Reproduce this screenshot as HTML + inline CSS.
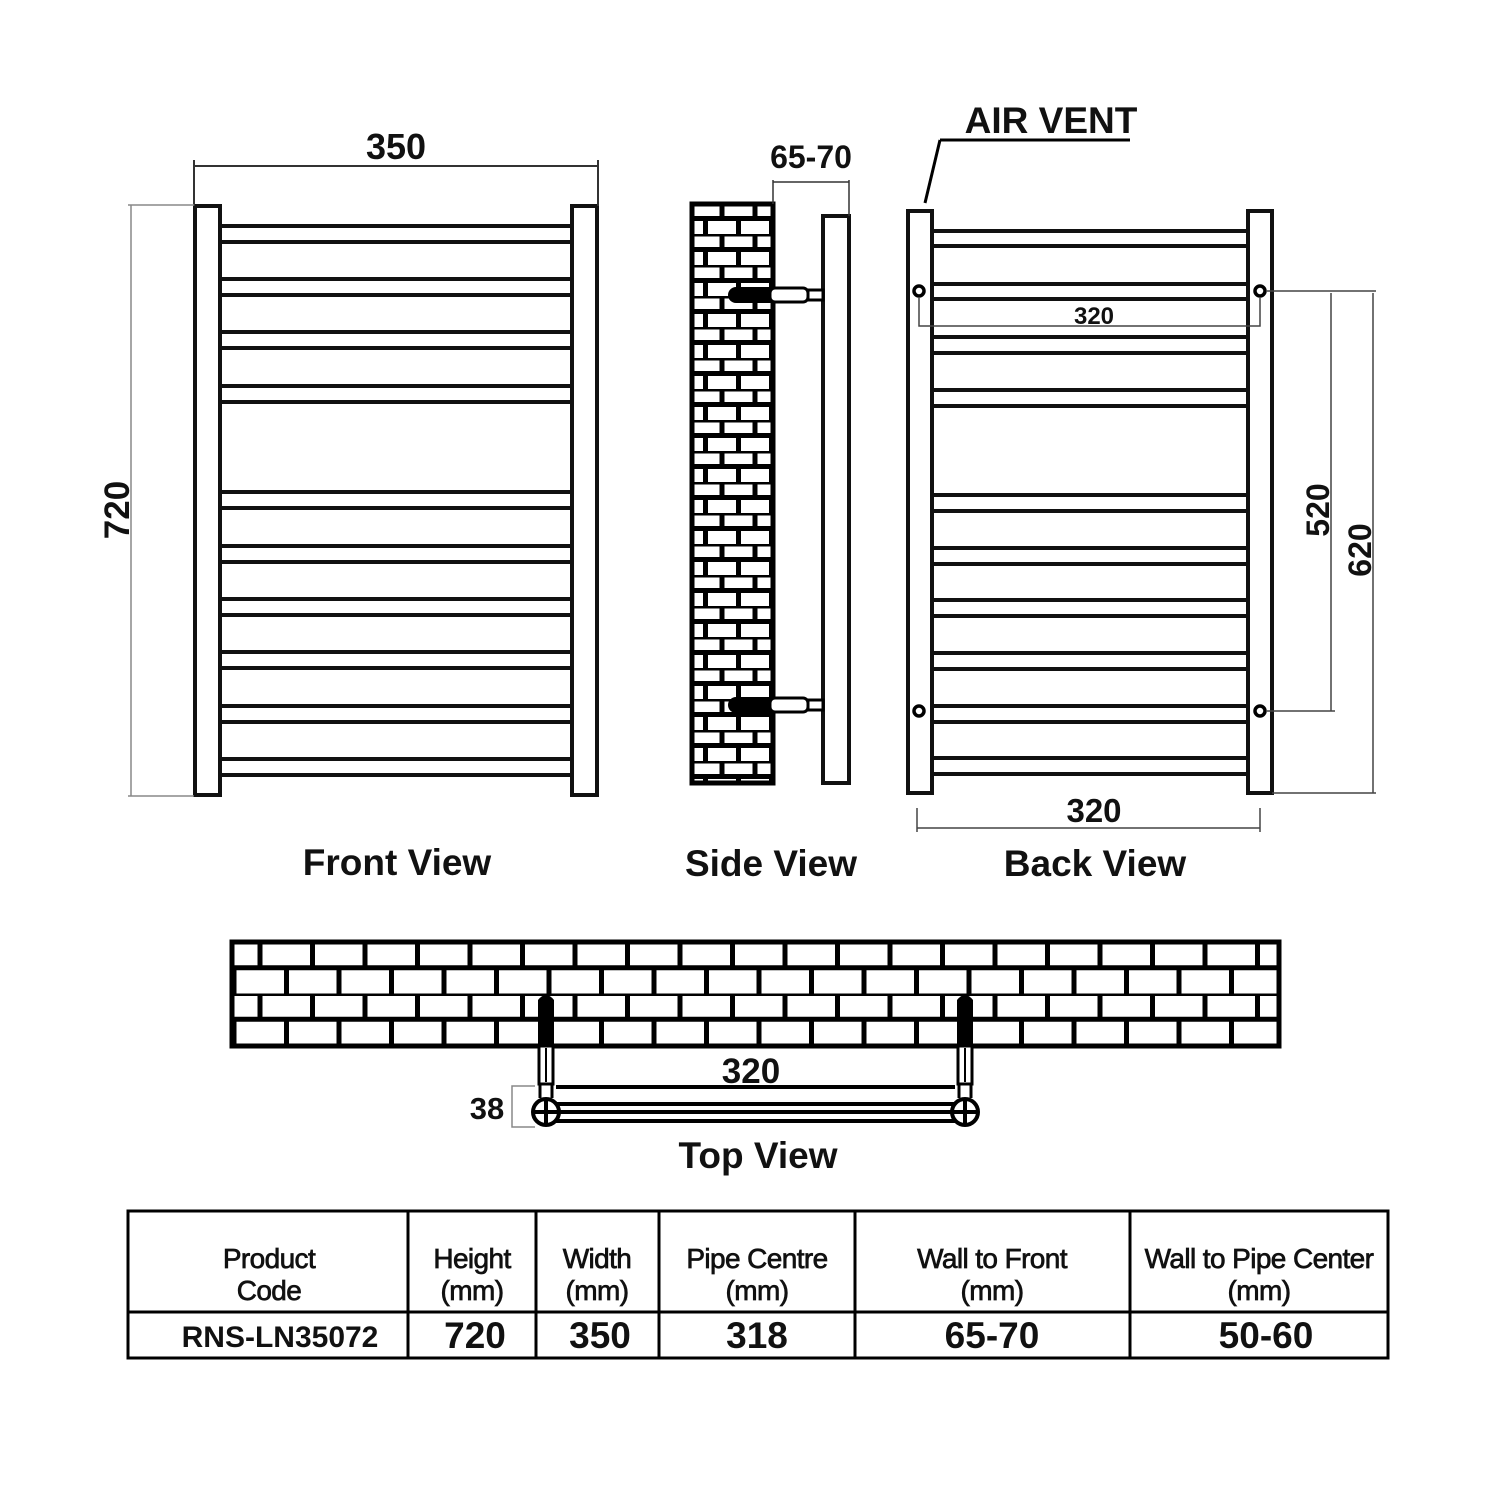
<!DOCTYPE html>
<html><head><meta charset="utf-8"><style>
html,body{margin:0;padding:0;background:#fff;}
svg{display:block;}
text{font-family:"Liberation Sans",Arial,sans-serif;fill:#111;}
.b{font-weight:bold;}
</style></head><body>
<svg width="1500" height="1500" viewBox="0 0 1500 1500" xmlns="http://www.w3.org/2000/svg">
<defs>
<pattern id="bt" patternUnits="userSpaceOnUse" x="234" y="942" width="52.5" height="51.5">
<rect width="52.5" height="51.5" fill="#fff"/>
<line x1="0" y1="0" x2="52.5" y2="0" stroke="#000" stroke-width="5"/>
<line x1="0" y1="25.75" x2="52.5" y2="25.75" stroke="#000" stroke-width="5"/>
<line x1="26" y1="0" x2="26" y2="25.75" stroke="#000" stroke-width="5"/>
<line x1="0" y1="25.75" x2="0" y2="51.5" stroke="#000" stroke-width="5"/>
<line x1="52.5" y1="25.75" x2="52.5" y2="51.5" stroke="#000" stroke-width="5"/>
</pattern>
<pattern id="bs" patternUnits="userSpaceOnUse" x="689" y="203" width="33" height="31">
<rect width="33" height="31" fill="#fff"/>
<line x1="0" y1="0" x2="33" y2="0" stroke="#000" stroke-width="5"/>
<line x1="0" y1="15.5" x2="33" y2="15.5" stroke="#000" stroke-width="5"/>
<line x1="0" y1="0" x2="0" y2="15.5" stroke="#000" stroke-width="5"/>
<line x1="33" y1="0" x2="33" y2="15.5" stroke="#000" stroke-width="5"/>
<line x1="16.5" y1="15.5" x2="16.5" y2="31" stroke="#000" stroke-width="5"/>
</pattern>
</defs>

<!-- FRONT VIEW -->
<g stroke="#111" fill="#fff" stroke-width="4">
<rect x="220" y="226" width="352" height="16"/>
<rect x="220" y="279" width="352" height="16"/>
<rect x="220" y="332" width="352" height="16"/>
<rect x="220" y="386" width="352" height="16"/>
<rect x="220" y="492" width="352" height="16"/>
<rect x="220" y="546" width="352" height="16"/>
<rect x="220" y="599" width="352" height="16"/>
<rect x="220" y="652" width="352" height="16"/>
<rect x="220" y="706" width="352" height="16"/>
<rect x="220" y="759" width="352" height="16"/>
<rect x="195" y="206" width="25" height="589"/>
<rect x="572" y="206" width="25" height="589"/>
</g>
<g stroke="#333" stroke-width="2" fill="none">
<line x1="194" y1="166" x2="598" y2="166"/>
<line x1="194" y1="160" x2="194" y2="206"/>
<line x1="598" y1="160" x2="598" y2="206"/>
</g>
<g stroke="#888" stroke-width="1.5" fill="none">
<line x1="131" y1="205" x2="131" y2="796"/>
<line x1="128" y1="205" x2="194" y2="205"/>
<line x1="128" y1="796" x2="194" y2="796"/>
</g>
<text x="396" y="159" font-size="36" class="b" text-anchor="middle">350</text>
<text transform="translate(129,510) rotate(-90)" font-size="35" class="b" text-anchor="middle">720</text>
<text x="397" y="875" font-size="37" class="b" text-anchor="middle">Front View</text>

<!-- SIDE VIEW -->
<rect x="692" y="204" width="81" height="579" fill="url(#bs)" stroke="#000" stroke-width="5"/>
<rect x="823" y="216" width="26" height="567" fill="#fff" stroke="#111" stroke-width="4"/>
<g>
<rect x="728" y="287" width="50" height="16" rx="8" fill="#000"/>
<rect x="770" y="288" width="38" height="14" rx="5" fill="#fff" stroke="#000" stroke-width="3"/>
<rect x="808" y="290" width="15" height="10" fill="#fff" stroke="#000" stroke-width="3"/>
<rect x="728" y="697" width="50" height="16" rx="8" fill="#000"/>
<rect x="770" y="698" width="38" height="14" rx="5" fill="#fff" stroke="#000" stroke-width="3"/>
<rect x="808" y="700" width="15" height="10" fill="#fff" stroke="#000" stroke-width="3"/>
</g>
<g stroke="#333" stroke-width="1.5" fill="none">
<line x1="773" y1="182" x2="849" y2="182"/>
<line x1="773" y1="180" x2="773" y2="204"/>
<line x1="849" y1="180" x2="849" y2="216"/>
</g>
<text x="811" y="168" font-size="32" class="b" text-anchor="middle">65-70</text>
<text x="771" y="876" font-size="37" class="b" text-anchor="middle">Side View</text>

<!-- BACK VIEW -->
<g stroke="#111" fill="#fff" stroke-width="4">
<rect x="932" y="231" width="316" height="15"/>
<rect x="932" y="284" width="316" height="15"/>
<rect x="932" y="337" width="316" height="16"/>
<rect x="932" y="390" width="316" height="16"/>
<rect x="932" y="495" width="316" height="16"/>
<rect x="932" y="548" width="316" height="16"/>
<rect x="932" y="600" width="316" height="16"/>
<rect x="932" y="653" width="316" height="16"/>
<rect x="932" y="706" width="316" height="16"/>
<rect x="932" y="758" width="316" height="16"/>
<rect x="908" y="211" width="24" height="582"/>
<rect x="1248" y="211" width="24" height="582"/>
</g>
<g fill="#fff" stroke="#000" stroke-width="3.5">
<circle cx="919" cy="291" r="5"/>
<circle cx="1260" cy="291" r="5"/>
<circle cx="919" cy="711" r="5"/>
<circle cx="1260" cy="711" r="5"/>
</g>
<g stroke="#444" stroke-width="1.5" fill="none">
<polyline points="919,297 919,326 1260,326 1260,297"/>
<line x1="1266" y1="291" x2="1376" y2="291"/>
<line x1="1266" y1="711" x2="1335" y2="711"/>
<line x1="1272" y1="793" x2="1376" y2="793"/>
<line x1="1331" y1="293" x2="1331" y2="711"/>
<line x1="1373" y1="293" x2="1373" y2="793"/>
<line x1="917" y1="828" x2="1260" y2="828"/>
<line x1="917" y1="808" x2="917" y2="832"/>
<line x1="1260" y1="808" x2="1260" y2="832"/>
</g>
<g stroke="#000" stroke-width="3" fill="none">
<line x1="940" y1="140" x2="1130" y2="140"/>
<line x1="940" y1="140" x2="925" y2="203"/>
</g>
<text x="1051" y="133" font-size="37" class="b" text-anchor="middle">AIR VENT</text>
<text x="1094" y="324" font-size="24" class="b" text-anchor="middle">320</text>
<text transform="translate(1329,510) rotate(-90)" font-size="32" class="b" text-anchor="middle">520</text>
<text transform="translate(1371,550) rotate(-90)" font-size="32" class="b" text-anchor="middle">620</text>
<text x="1094" y="822" font-size="33" class="b" text-anchor="middle">320</text>
<text x="1095" y="876" font-size="37" class="b" text-anchor="middle">Back View</text>

<!-- TOP VIEW -->
<rect x="232" y="942" width="1047" height="104" fill="url(#bt)" stroke="#000" stroke-width="5"/>
<g>
<path d="M538,1000 q8,-10 16,0 l0,48 -16,0 z" fill="#000"/>
<rect x="539" y="1046" width="14" height="38" fill="#fff" stroke="#000" stroke-width="3"/>
<line x1="546" y1="1048" x2="546" y2="1082" stroke="#000" stroke-width="2"/>
<path d="M957,1000 q8,-10 16,0 l0,48 -16,0 z" fill="#000"/>
<rect x="958" y="1046" width="14" height="38" fill="#fff" stroke="#000" stroke-width="3"/>
<line x1="965" y1="1048" x2="965" y2="1082" stroke="#000" stroke-width="2"/>
<line x1="540" y1="1084" x2="540" y2="1098" stroke="#000" stroke-width="3"/>
<line x1="552" y1="1084" x2="552" y2="1098" stroke="#000" stroke-width="3"/>
<line x1="959" y1="1084" x2="959" y2="1098" stroke="#000" stroke-width="3"/>
<line x1="971" y1="1084" x2="971" y2="1098" stroke="#000" stroke-width="3"/>
</g>
<g stroke="#000" stroke-width="4" fill="none">
<line x1="556" y1="1087" x2="955" y2="1087"/>
<line x1="556" y1="1104" x2="955" y2="1104"/>
<line x1="556" y1="1112" x2="955" y2="1112"/>
<line x1="556" y1="1121" x2="955" y2="1121"/>
<circle cx="546" cy="1112" r="13" fill="#fff"/>
<line x1="533" y1="1112" x2="559" y2="1112"/>
<line x1="546" y1="1099" x2="546" y2="1125"/>
<circle cx="965" cy="1112" r="13" fill="#fff"/>
<line x1="952" y1="1112" x2="978" y2="1112"/>
<line x1="965" y1="1099" x2="965" y2="1125"/>
</g>
<polyline points="535,1086 512,1086 512,1127 535,1127" fill="none" stroke="#888" stroke-width="1.5"/>
<text x="751" y="1083" font-size="35" class="b" text-anchor="middle">320</text>
<text x="487" y="1119" font-size="31" class="b" text-anchor="middle">38</text>
<text x="758" y="1168" font-size="37" class="b" text-anchor="middle">Top View</text>

<!-- TABLE -->
<g stroke="#000" stroke-width="3" fill="none">
<rect x="128" y="1211" width="1260" height="147"/>
<line x1="128" y1="1312" x2="1388" y2="1312"/>
<line x1="408" y1="1211" x2="408" y2="1358"/>
<line x1="536" y1="1211" x2="536" y2="1358"/>
<line x1="659" y1="1211" x2="659" y2="1358"/>
<line x1="855" y1="1211" x2="855" y2="1358"/>
<line x1="1130" y1="1211" x2="1130" y2="1358"/>
</g>
<g font-size="28" text-anchor="middle" letter-spacing="-0.6" stroke="#111" stroke-width="0.7">
<text x="269" y="1268">Product</text><text x="269" y="1300">Code</text>
<text x="472" y="1268">Height</text><text x="472" y="1300">(mm)</text>
<text x="597" y="1268">Width</text><text x="597" y="1300">(mm)</text>
<text x="757" y="1268">Pipe Centre</text><text x="757" y="1300">(mm)</text>
<text x="992" y="1268">Wall to Front</text><text x="992" y="1300">(mm)</text>
<text x="1259" y="1268">Wall to Pipe Center</text><text x="1259" y="1300">(mm)</text>
</g>
<text x="280" y="1347" font-size="30" class="b" text-anchor="middle">RNS-LN35072</text>
<g font-size="37" class="b" text-anchor="middle">
<text x="475" y="1348">720</text>
<text x="600" y="1348">350</text>
<text x="757" y="1348">318</text>
<text x="992" y="1348">65-70</text>
<text x="1266" y="1348">50-60</text>
</g>
</svg>
</body></html>
